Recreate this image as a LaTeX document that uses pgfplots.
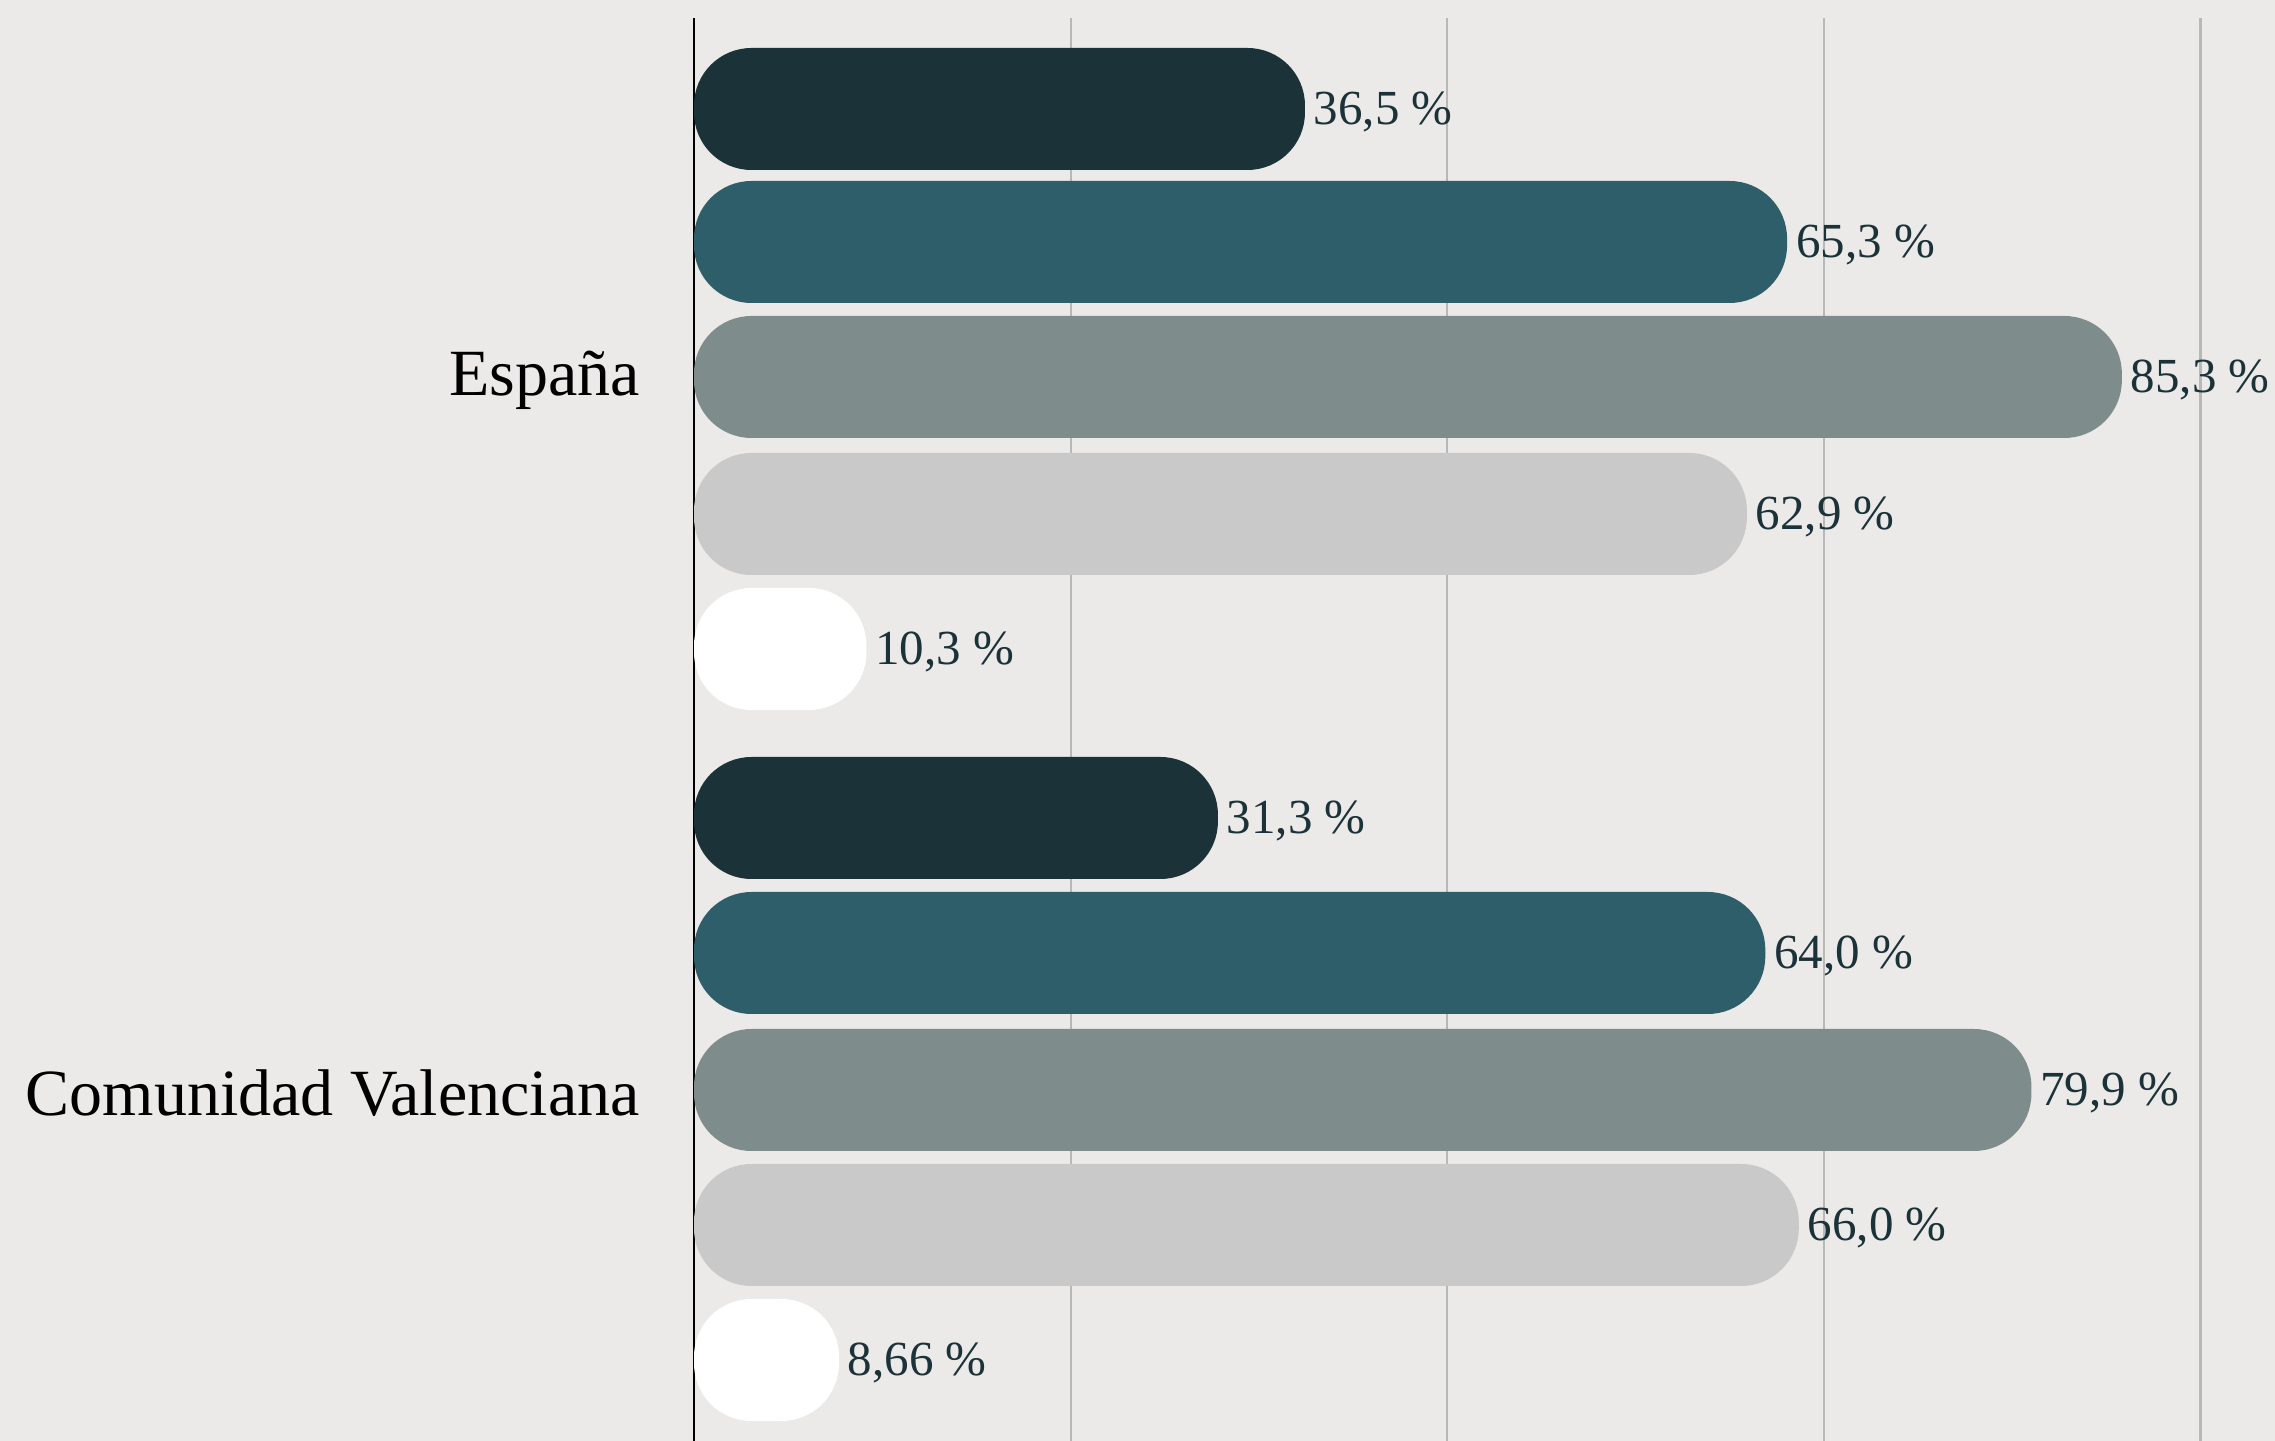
\documentclass[border=0pt]{standalone}
\usepackage{fontspec}
\setmainfont{Liberation Serif}
\usepackage{pgfplots}
\pgfplotsset{compat=1.18}
\definecolor{bg}{HTML}{EBEAE8}
\definecolor{cdark}{HTML}{1B3238}
\definecolor{cteal}{HTML}{2D5E69}
\definecolor{cgray}{HTML}{7F8C8C}
\definecolor{clight}{HTML}{C9C9C9}
\definecolor{labelc}{HTML}{1B3238}
\begin{document}
\begin{tikzpicture}
\fill[bg] (0,0) rectangle (455pt,288.2pt);
\useasboundingbox (0,0) rectangle (455pt,288.2pt);
\begin{axis}[
  at={(138.8pt,0pt)}, anchor=south west,
  scale only axis, width=316.2pt, height=284.6pt,
  xmin=0, xmax=94.45, ymin=18, ymax=1441, y dir=reverse,
  axis x line*=bottom, axis y line*=left,
  x axis line style={draw=none},
  y axis line style={draw=black, line width=0.45pt, -},
  xtick={22.5,45,67.5,90}, xticklabels={},
  xmajorgrids, major grid style={color=black!28, line width=0.45pt},
  tick style={draw=none},
  ytick={377,1090}, yticklabels={España, Comunidad Valenciana},
  yticklabel style={font=\fontsize{13.2}{15}\selectfont, inner sep=0pt, xshift=-6.4pt, yshift=-0.6pt, text=black},
  xbar, bar width=122, bar shift=0,
  every axis plot/.append style={draw=none, rounded corners=11.5pt},
  point meta=explicit symbolic,
  nodes near coords={\pgfplotspointmeta},
  nodes near coords style={font=\fontsize{9.8}{12}\selectfont, text=labelc, anchor=west, inner sep=0pt, xshift=1.6pt, yshift=-0.6pt, rounded corners=0pt},
  clip=false,
]
\addplot[fill=cdark] coordinates {(36.5,109) [36,5 \%] (31.3,818) [31,3 \%]};
\addplot[fill=cteal] coordinates {(65.3,242) [65,3 \%] (64.0,953) [64,0 \%]};
\addplot[fill=cgray] coordinates {(85.3,377) [85,3 \%] (79.9,1090) [79,9 \%]};
\addplot[fill=clight] coordinates {(62.9,514) [62,9 \%] (66.0,1225) [66,0 \%]};
\addplot[fill=white] coordinates {(10.3,649) [10,3 \%] (8.66,1360) [8,66 \%]};
\end{axis}
\end{tikzpicture}
\end{document}
